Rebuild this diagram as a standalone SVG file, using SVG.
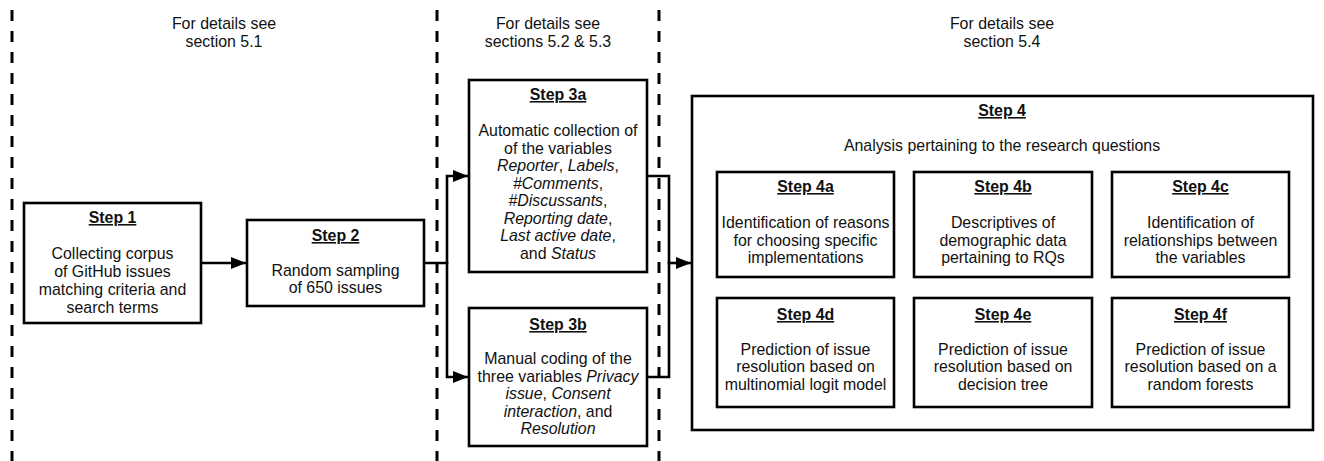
<svg xmlns="http://www.w3.org/2000/svg" width="1324" height="461" viewBox="0 0 1324 461">
<style>
text{font-family:"Liberation Sans",Arial,Helvetica,sans-serif;font-size:15.9px;fill:#111;text-anchor:middle}
.t{font-weight:bold;text-decoration:underline}
.i{font-style:italic}
.box{fill:#fff;stroke:#000;stroke-width:2.6}
.dash{stroke:#000;stroke-width:3;stroke-dasharray:11 10;fill:none}
.con{stroke:#000;stroke-width:2.6;fill:none}
</style>
<defs>
<marker id="ah" viewBox="0 0 15 12" refX="15" refY="6" markerWidth="15" markerHeight="12" markerUnits="userSpaceOnUse" orient="auto">
<path d="M0,0 L15,6 L0,12 Z" fill="#000"/>
</marker>
</defs>
<rect width="1324" height="461" fill="#fff"/>
<g id="separators">
<line class="dash" x1="12" y1="10" x2="12" y2="461"/>
<line class="dash" x1="437" y1="10" x2="437" y2="461"/>
<line class="dash" x1="659" y1="10" x2="659" y2="461"/>
</g>
<g id="headers">
<text x="224" y="29">For details see</text>
<text x="224" y="46.5">section 5.1</text>
<text x="548" y="29">For details see</text>
<text x="548" y="46.5">sections 5.2 &amp; 5.3</text>
<text x="1002" y="29">For details see</text>
<text x="1002" y="46.5">section 5.4</text>
</g>
<g id="connectors">
<path class="con" d="M201,263 H246" marker-end="url(#ah)"/>
<path class="con" d="M424,263 H447 V176 H468" marker-end="url(#ah)"/>
<path class="con" d="M447,262 V377 H468" marker-end="url(#ah)"/>
<path class="con" d="M647,176 H669 V264"/>
<path class="con" d="M647,377 H669 V262"/>
<path class="con" d="M669,263 H691" marker-end="url(#ah)"/>
</g>
<g id="step1">
<rect class="box" x="24" y="203" width="177" height="120"/>
<text class="t" x="112.5" y="223" style="text-decoration-color:#2244cc">Step 1</text>
<text x="112.5" y="258.5">Collecting corpus</text>
<text x="112.5" y="276.5">of GitHub issues</text>
<text x="112.5" y="294.5">matching criteria and</text>
<text x="112.5" y="312.5">search terms</text>
</g>
<g id="step2">
<rect class="box" x="247" y="220" width="177" height="86"/>
<text class="t" x="335.5" y="241">Step 2</text>
<text x="335.5" y="275.5">Random sampling</text>
<text x="335.5" y="293">of 650 issues</text>
</g>
<g id="step3a">
<rect class="box" x="469" y="80" width="178" height="192"/>
<text class="t" x="558" y="100">Step 3a</text>
<text x="558" y="136">Automatic collection of</text>
<text x="558" y="153.5">of the variables</text>
<text x="558" y="171"><tspan class="i">Reporter</tspan>, <tspan class="i">Labels</tspan>,</text>
<text x="558" y="188.5"><tspan class="i">#Comments</tspan>,</text>
<text x="558" y="206"><tspan class="i">#Discussants</tspan>,</text>
<text x="558" y="223.5"><tspan class="i">Reporting date</tspan>,</text>
<text x="558" y="241"><tspan class="i">Last active date</tspan>,</text>
<text x="558" y="258.5">and <tspan class="i">Status</tspan></text>
</g>
<g id="step3b">
<rect class="box" x="469" y="308" width="178" height="138"/>
<text class="t" x="558" y="330">Step 3b</text>
<text x="558" y="364">Manual coding of the</text>
<text x="558" y="381.5">three variables <tspan class="i">Privacy</tspan></text>
<text x="558" y="399"><tspan class="i">issue</tspan>, <tspan class="i">Consent</tspan></text>
<text x="558" y="416.5"><tspan class="i">interaction</tspan>, and</text>
<text x="558" y="434"><tspan class="i">Resolution</tspan></text>
</g>
<g id="step4">
<rect class="box" x="692" y="96" width="621" height="334"/>
<text class="t" x="1002" y="116">Step 4</text>
<text x="1002" y="151">Analysis pertaining to the research questions</text>
</g>
<g id="step4a">
<rect class="box" x="717" y="172" width="177" height="105"/>
<text class="t" x="805.5" y="192">Step 4a</text>
<text x="805.5" y="228">Identification of reasons</text>
<text x="805.5" y="245.5">for choosing specific</text>
<text x="805.5" y="263">implementations</text>
</g>
<g id="step4b">
<rect class="box" x="914" y="172" width="178" height="105"/>
<text class="t" x="1003" y="192">Step 4b</text>
<text x="1003" y="228">Descriptives of</text>
<text x="1003" y="245.5">demographic data</text>
<text x="1003" y="263">pertaining to RQs</text>
</g>
<g id="step4c">
<rect class="box" x="1112" y="172" width="177" height="105"/>
<text class="t" x="1200.5" y="192">Step 4c</text>
<text x="1200.5" y="228">Identification of</text>
<text x="1200.5" y="245.5">relationships between</text>
<text x="1200.5" y="263">the variables</text>
</g>
<g id="step4d">
<rect class="box" x="717" y="298" width="177" height="109"/>
<text class="t" x="805.5" y="320">Step 4d</text>
<text x="805.5" y="354.5">Prediction of issue</text>
<text x="805.5" y="372">resolution based on</text>
<text x="805.5" y="389.5">multinomial logit model</text>
</g>
<g id="step4e">
<rect class="box" x="914" y="298" width="178" height="109"/>
<text class="t" x="1003" y="320">Step 4e</text>
<text x="1003" y="354.5">Prediction of issue</text>
<text x="1003" y="372">resolution based on</text>
<text x="1003" y="389.5">decision tree</text>
</g>
<g id="step4f">
<rect class="box" x="1112" y="298" width="177" height="109"/>
<text class="t" x="1200.5" y="320">Step 4f</text>
<text x="1200.5" y="354.5">Prediction of issue</text>
<text x="1200.5" y="372">resolution based on a</text>
<text x="1200.5" y="389.5">random forests</text>
</g>
</svg>
